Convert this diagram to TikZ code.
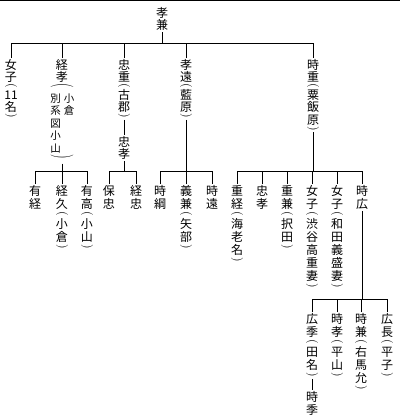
\documentclass[tikz,border=0pt]{standalone}
\usepackage{fontspec}
\usepackage{graphicx}
\usepackage{tikz}
\newfontfamily\cjk{Noto Sans CJK JP}

% vertical stack of characters: ( ) small parens, [ ] wide parens
\makeatletter
\newdimen\stkgap \stkgap=.3pt
\newdimen\stkpar \stkpar=5pt
\newdimen\stkwd \stkwd=13pt
\def\stk@lp{(}\def\stk@rp{)}\def\stk@wlp{[}\def\stk@wrp{]}
\newcommand\stk@box[1]{\hbox to\stkwd{\hss#1\hss}}
\newcommand\stk@strut{\vrule height.88em depth.12em width\z@}
\newcommand\stk@pstrut{\vrule height\stkpar depth\z@ width\z@}
\newcommand\stk[1]{\vbox{\baselineskip=-1000pt\lineskiplimit=0pt\lineskip=\stkgap
  \@tfor\stk@c:=#1\do{%
    \ifx\stk@c\stk@lp\stk@box{\stk@pstrut\rotatebox[origin=c]{-90}{\rmfamily(}}\else
    \ifx\stk@c\stk@rp\stk@box{\stk@pstrut\rotatebox[origin=c]{-90}{\rmfamily)}}\else
    \ifx\stk@c\stk@wlp\stk@box{\stk@pstrut\rotatebox[origin=c]{-90}{\scalebox{1}[1.9]{\rmfamily(}}}\else
    \ifx\stk@c\stk@wrp\stk@box{\stk@pstrut\rotatebox[origin=c]{-90}{\scalebox{1}[1.9]{\rmfamily)}}}\else
    \stk@box{\stk@strut\stk@c}\fi\fi\fi\fi}}}
\makeatother

\begin{document}
\begin{tikzpicture}[x=1pt, y=-1pt, line width=0.7pt,
    kin/.style={inner sep=0.6pt, font={\cjk\fontsize{12}{12}\selectfont}},
    kinlow/.style={kin, font={\cjk\fontsize{12}{12}\selectfont\stkgap=1pt\stkpar=6pt}},
    wari/.style={inner sep=0pt, font={\cjk\fontsize{10.5}{10.5}\selectfont\stkgap=2pt\stkwd=10.5pt}}]
    \useasboundingbox (0,0) rectangle (400,416);

    % Top rule
    \draw[line width=1.3pt] (0,0.8) -- (400,0.8);

    % Head of the family
    \node[kin, anchor=north] (tk) at (162,6) {\stk{孝兼}};

    % Sons and daughters
    \node[kin, anchor=north] (nyo) at (11,58) {\stk{女子({11}名)}};
    \node[kin, anchor=north] (kt) at (62,58) {\stk{経孝[}};
    \node[wari, anchor=north, xshift=-6.5pt] (ktl) at (kt.south) {\stk{別系図小山}};
    \node[wari, anchor=north, xshift=7pt] (ktr) at (kt.south) {\stk{小倉}};
    \node[kin, anchor=north] (ktc) at (kt.south |- ktl.south) {\stk{]}};
    \node[kin, anchor=north] (tds) at (124,58) {\stk{忠重(古郡)}};
    \node[kin, anchor=north] (tdt) at (124,135) {\stk{忠孝}};
    \node[kin, anchor=north] (tkt) at (186,58) {\stk{孝遠(藍原)}};
    \node[kin, anchor=north] (tks) at (313,58) {\stk{時重(粟飯原)}};

    % Grandchildren
    \node[kinlow, anchor=north] (art) at (35,184) {\stk{有経}};
    \node[kinlow, anchor=north] (tnh) at (62,184) {\stk{経久(小倉)}};
    \node[kinlow, anchor=north] (arta) at (87,184) {\stk{有高(小山)}};
    \node[kinlow, anchor=north] (yst) at (109,184) {\stk{保忠}};
    \node[kinlow, anchor=north] (tnt) at (136,184) {\stk{経忠}};
    \node[kinlow, anchor=north] (tkn) at (160,184) {\stk{時綱}};
    \node[kinlow, anchor=north] (ysk) at (186,184) {\stk{義兼(矢部)}};
    \node[kinlow, anchor=north] (tkto) at (212,184) {\stk{時遠}};
    \node[kinlow, anchor=north] (sgt) at (237,184) {\stk{重経(海老名)}};
    \node[kinlow, anchor=north] (tdtb) at (262,184) {\stk{忠孝}};
    \node[kinlow, anchor=north] (sgk) at (287,184) {\stk{重兼(択田)}};
    \node[kinlow, anchor=north] (nyob) at (312,184) {\stk{女子(渋谷高重妻)}};
    \node[kinlow, anchor=north] (nyoc) at (337,184) {\stk{女子(和田義盛妻)}};
    \node[kinlow, anchor=north] (tkh) at (362,184) {\stk{時広}};

    % Children of Tokihiro
    \node[kinlow, anchor=north] (hrs) at (312,312) {\stk{広季(田名)}};
    \node[kinlow, anchor=north] (tkta) at (337,312) {\stk{時孝(平山)}};
    \node[kinlow, anchor=north] (tkk) at (361,312) {\stk{時兼(右馬允)}};
    \node[kinlow, anchor=north] (hrn) at (387,312) {\stk{広長(平子)}};
    \node[kinlow, anchor=north] (tksu) at (312,390) {\stk{時季}};

    % Bars
    \coordinate (b0) at (0,43);
    \coordinate (b1) at (0,171);
    \coordinate (b2) at (0,299);

    % Lines of descent
    \draw (tk.south) -- (tk.south |- b0);
    \draw (nyo.north) |- (tks.north |- b0) -- (tks.north);
    \foreach \n in {kt,tds,tkt}
        \draw (\n.north) -- (\n.north |- b0);

    \draw (ktc.south) -- (ktc.south |- b1);
    \draw (art.north) |- (arta.north |- b1) -- (arta.north);
    \draw (tnh.north) -- (tnh.north |- b1);

    \draw (tds.south) -- (tdt.north);
    \draw (tdt.south) -- (tdt.south |- b1);
    \draw (yst.north) |- (tnt.north |- b1) -- (tnt.north);

    \draw (tkt.south) -- (tkt.south |- b1);
    \draw (tkn.north) |- (tkto.north |- b1) -- (tkto.north);
    \draw (ysk.north) -- (ysk.north |- b1);

    \draw (tks.south) -- (tks.south |- b1);
    \draw (sgt.north) |- (tkh.north |- b1) -- (tkh.north);
    \foreach \n in {tdtb,sgk,nyob,nyoc}
        \draw (\n.north) -- (\n.north |- b1);

    \draw (tkh.south) -- (tkh.south |- b2);
    \draw (hrs.north) |- (hrn.north |- b2) -- (hrn.north);
    \foreach \n in {tkta,tkk}
        \draw (\n.north) -- (\n.north |- b2);
    \draw (hrs.south) -- (tksu.north);
\end{tikzpicture}
\end{document}
